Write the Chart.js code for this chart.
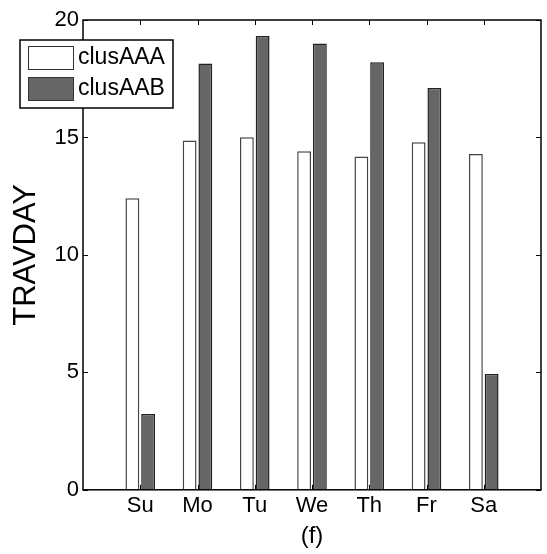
<!DOCTYPE html>
<html lang="en">
<head>
    <meta charset="UTF-8">
    <title>TRAVDAY by weekday</title>
    <script src="https://cdn.jsdelivr.net/npm/chart.js"></script>
    <style>
        html, body { margin: 0; padding: 0; background: #fff; }
        #wrap { width: 547px; height: 554px; }
    </style>
</head>
<body>
    <div id="wrap"><canvas id="chart"></canvas></div>

    <script>
        // blank slots at both ends so the axis runs 0..8 like the original
        const days = ['', 'Su', 'Mo', 'Tu', 'We', 'Th', 'Fr', 'Sa', ''];
        const clusAAA = [null, 12.41, 14.87, 15.01, 14.41, 14.19, 14.8, 14.3, null];
        const clusAAB = [null, 3.23, 18.15, 19.32, 19.0, 18.2, 17.1, 4.93, null];
        const yTicks = [0, 5, 10, 15, 20];

        const font = 'Liberation Sans, Arial, sans-serif';

        // inward ticks, box and in-plot legend, matlab style
        const frame = {
            id: 'frame',
            afterDraw(chart) {
                const ctx = chart.ctx;
                const a = chart.chartArea;
                const x = chart.scales.x, y = chart.scales.y;
                ctx.save();
                ctx.strokeStyle = '#000';
                ctx.lineWidth = 1;
                ctx.beginPath();
                for (let i = 1; i < days.length - 1; i++) {
                    const px = Math.round(x.getPixelForValue(i)) + 0.5;
                    ctx.moveTo(px, a.top); ctx.lineTo(px, a.top + 5);
                    ctx.moveTo(px, a.bottom); ctx.lineTo(px, a.bottom - 5);
                }
                yTicks.forEach(v => {
                    const py = Math.round(y.getPixelForValue(v)) + 0.5;
                    ctx.moveTo(a.left, py); ctx.lineTo(a.left + 5, py);
                    ctx.moveTo(a.right, py); ctx.lineTo(a.right - 5, py);
                });
                ctx.stroke();
                ctx.lineWidth = 1.5;
                ctx.strokeRect(a.left, a.top, a.right - a.left, a.bottom - a.top);

                // legend box
                const lx = 20, ly = 40, lw = 153, lh = 68;
                ctx.fillStyle = '#fff';
                ctx.fillRect(lx, ly, lw, lh);
                ctx.strokeRect(lx, ly, lw, lh);
                ctx.font = '23px ' + font;
                ctx.textBaseline = 'middle';
                chart.data.datasets.forEach((ds, i) => {
                    const sy = ly + 6 + i * 31;
                    ctx.fillStyle = ds.backgroundColor;
                    ctx.fillRect(lx + 8, sy, 45, 23);
                    ctx.lineWidth = 1;
                    ctx.strokeStyle = '#333';
                    ctx.strokeRect(lx + 8.5, sy + 0.5, 45, 23);
                    ctx.fillStyle = '#000';
                    ctx.fillText(ds.label, lx + 58, sy + 12);
                });
                ctx.restore();
            }
        };

        new Chart(document.getElementById('chart'), {
            type: 'bar',
            data: {
                labels: days,
                datasets: [{
                    label: 'clusAAA',
                    data: clusAAA,
                    backgroundColor: '#ffffff',
                    borderColor: '#444',
                    borderWidth: 1.5,
                    categoryPercentage: 0.55,
                    barPercentage: 0.88
                }, {
                    label: 'clusAAB',
                    data: clusAAB,
                    backgroundColor: '#666666',
                    borderColor: '#222',
                    borderWidth: 1.5,
                    categoryPercentage: 0.55,
                    barPercentage: 0.88
                }]
            },
            options: {
                responsive: true,
                maintainAspectRatio: false,
                animation: false,
                layout: { padding: { top: 20, right: 6, left: 0, bottom: 3 } },
                plugins: { legend: { display: false }, tooltip: { enabled: false } },
                scales: {
                    x: {
                        offset: false,
                        grid: { display: false, drawTicks: false, tickLength: 0 },
                        border: { display: false },
                        ticks: {
                            autoSkip: false, maxRotation: 0, padding: 3,
                            color: '#000', font: { family: font, size: 22 }
                        },
                        title: {
                            display: true, text: '(f)', color: '#000',
                            font: { family: font, size: 24 }, padding: { top: 0, bottom: 0 }
                        }
                    },
                    y: {
                        min: 0, max: 20,
                        afterBuildTicks(s) { s.ticks = yTicks.map(v => ({ value: v })); },
                        afterFit(s) { s.width = 83; },
                        grid: { display: false, drawTicks: false, tickLength: 0 },
                        border: { display: false },
                        ticks: {
                            padding: 4, color: '#000',
                            font: { family: font, size: 22 }
                        },
                        title: {
                            display: true, text: 'TRAVDAY', color: '#000',
                            font: { family: font, size: 31 }, padding: { top: 8, bottom: 0 }
                        }
                    }
                }
            },
            plugins: [frame]
        });
    </script>
</body>
</html>
